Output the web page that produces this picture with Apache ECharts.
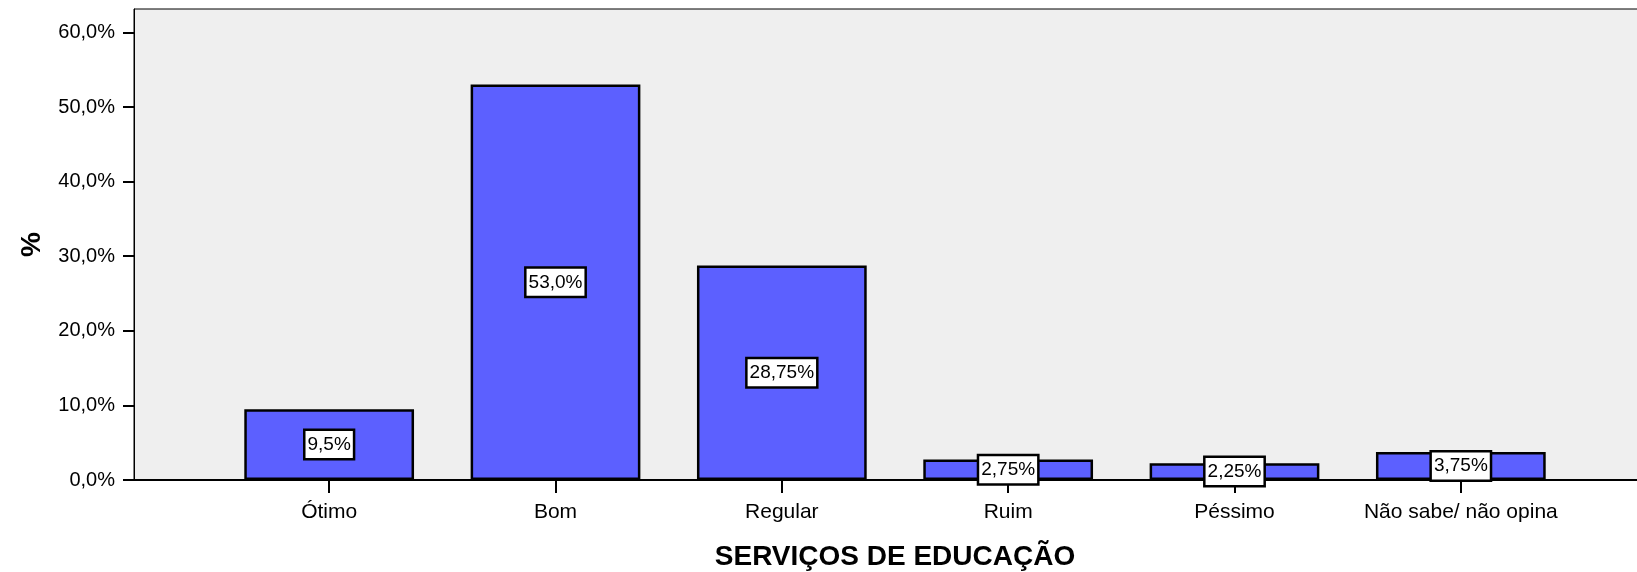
<!DOCTYPE html>
<html>
<head>
<meta charset="utf-8">
<script src="https://cdn.jsdelivr.net/npm/echarts@6/dist/echarts.min.js"></script>
<style>
    html, body { margin: 0; padding: 0; background: #fff; }
    #chart { width: 1637px; height: 572px; }
</style>
</head>
<body>
<div id="chart"></div>
<script>
// categorias e percentuais (SERVIÇOS DE EDUCAÇÃO)
var categories = ['Ótimo', 'Bom', 'Regular', 'Ruim', 'Péssimo', 'Não sabe/ não opina'];
var percents = [9.5, 53.0, 28.75, 2.75, 2.25, 3.75];
var barLabels = ['9,5%', '53,0%', '28,75%', '2,75%', '2,25%', '3,75%'];
var yTicks = [0, 10, 20, 30, 40, 50, 60];

var chart = echarts.init(document.getElementById('chart'));

var option = {
    animation: false,
    textStyle: { fontFamily: 'Liberation Sans, Arial, sans-serif', color: '#000' },
    grid: [
        // caixa cinza do gráfico
        { left: 134, top: 9, right: -5, bottom: 92, show: true, outerBoundsMode: 'none',
          backgroundColor: '#efefef', borderColor: '#000', borderWidth: 1 },
        // area das barras
        { left: 216, top: 32.4, right: 63, bottom: 92, outerBoundsMode: 'none' }
    ],
    xAxis: [
        {
            gridIndex: 0, type: 'value', min: 0, max: 1,
            axisLine: { show: true, lineStyle: { color: '#000', width: 2 } },
            axisTick: { show: false }, axisLabel: { show: false }, splitLine: { show: false }
        },
        {
            gridIndex: 1, type: 'category', data: categories,
            axisLine: { show: false },
            axisTick: { show: true, alignWithLabel: true, length: 13, lineStyle: { color: '#000', width: 2 } },
            axisLabel: { interval: 0, margin: 22, fontSize: 21, color: '#000' },
            name: 'SERVIÇOS DE EDUCAÇÃO',
            nameLocation: 'middle',
            nameGap: 63,
            nameTextStyle: { fontSize: 28, fontWeight: 'bold', color: '#000' }
        }
    ],
    yAxis: [
        {
            gridIndex: 0, type: 'value', min: 0, max: 1,
            axisLine: { show: true, lineStyle: { color: '#000', width: 1 } },
            axisTick: { show: false }, axisLabel: { show: false }, splitLine: { show: false },
            name: '%',
            nameLocation: 'middle',
            nameGap: 88,
            nameTextStyle: { fontSize: 28, fontWeight: 'bold', color: '#000' }
        },
        {
            gridIndex: 1, type: 'value',
            min: yTicks[0], max: yTicks[yTicks.length - 1], interval: 10,
            offset: 82,
            axisLine: { show: false },
            axisTick: { show: true, length: 11, lineStyle: { color: '#000', width: 2 } },
            axisLabel: {
                margin: 19, fontSize: 20, color: '#000',
                formatter: function (v) { return v.toFixed(1).replace('.', ',') + '%'; }
            },
            splitLine: { show: false }
        }
    ],
    series: [
        {
            type: 'bar',
            xAxisIndex: 1,
            yAxisIndex: 1,
            barWidth: '75%',
            data: percents,
            itemStyle: { color: '#5c60ff', borderColor: '#000', borderWidth: 2.5 },
            label: {
                show: true,
                position: 'inside',
                color: '#000',
                fontSize: 19,
                lineHeight: 20,
                backgroundColor: '#fff',
                borderColor: '#000',
                borderWidth: 2.5,
                padding: [4, 2, 3, 2],
                formatter: function (p) { return barLabels[p.dataIndex]; }
            }
        }
    ]
};

chart.setOption(option);
</script>
</body>
</html>
